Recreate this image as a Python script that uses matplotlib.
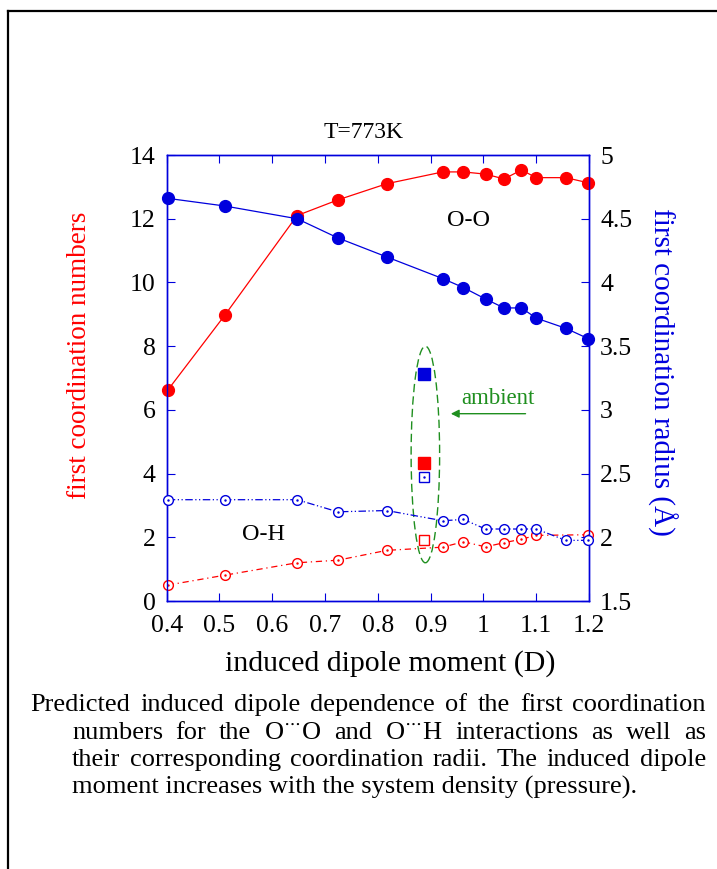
import matplotlib
matplotlib.use("Agg")
import matplotlib.pyplot as plt
from matplotlib.patches import Ellipse

plt.rcParams["font.family"] = ["Liberation Serif", "DejaVu Serif"]
plt.rcParams["mathtext.fontset"] = "stix"

# induced dipole moment (D)
dipole = [0.402, 0.51, 0.647, 0.724, 0.817, 0.923, 0.962, 1.004, 1.039, 1.072, 1.100, 1.156, 1.198]
# O-O coordination number / radius
n_oo = [6.62, 8.97, 12.10, 12.59, 13.10, 13.47, 13.47, 13.40, 13.25, 13.53, 13.29, 13.29, 13.13]
r_oo = [4.66, 4.60, 4.50, 4.35, 4.20, 4.03, 3.96, 3.87, 3.80, 3.80, 3.72, 3.64, 3.56]
# O-H coordination radius
r_oh = [2.295, 2.295, 2.295, 2.20, 2.21, 2.13, 2.14, 2.065, 2.065, 2.065, 2.065, 1.976, 1.976]
# O-H coordination number (no point at 1.156)
dipole_noh = [0.402, 0.51, 0.647, 0.724, 0.817, 0.923, 0.962, 1.004, 1.039, 1.072, 1.100, 1.198]
n_oh = [0.50, 0.81, 1.20, 1.28, 1.59, 1.69, 1.86, 1.70, 1.83, 1.94, 2.06, 2.08]

# ambient water
amb_dipole = 0.888
amb_n_oo, amb_r_oo = 4.32, 3.28
amb_n_oh, amb_r_oh = 1.905, 2.473

RED = "#ff0000"
BLUE = "#0000dd"
GREEN = "#1f8f1f"

fig = plt.figure(figsize=(7.17, 8.69), dpi=100)
ax = fig.add_axes([0.2325, 0.3084, 0.589, 0.5132])
ax2 = ax.twinx()

# left axis: coordination numbers
ax.plot(dipole, n_oo, "-", color=RED, lw=0.9, marker="o", ms=8.5, clip_on=False, zorder=3)
ax.plot(dipole_noh, n_oh, color=RED, lw=0.9, ls=(0, (5, 3, 1, 3)), marker="o", ms=7,
        mfc="white", mec=RED, mew=1.0, clip_on=False, zorder=3)
ax.plot(dipole_noh, n_oh, ".", color=RED, ms=1.5, clip_on=False, zorder=4)
ax.plot([amb_dipole], [amb_n_oo], "s", color=RED, ms=8, zorder=3)
ax.plot([amb_dipole], [amb_n_oh], "s", color=RED, ms=7.5, mfc="white", mec=RED, mew=1.0, zorder=3)

# right axis: coordination radii
ax2.plot(dipole, r_oo, "-", color=BLUE, lw=0.9, marker="o", ms=8.5, clip_on=False, zorder=3)
ax2.plot(dipole, r_oh, color=BLUE, lw=0.9, ls=(0, (6, 2, 1, 2, 1, 2)), marker="o", ms=7,
         mfc="white", mec=BLUE, mew=1.0, clip_on=False, zorder=3)
ax2.plot(dipole, r_oh, ".", color=BLUE, ms=1.5, clip_on=False, zorder=4)
ax2.plot([amb_dipole], [amb_r_oo], "s", color=BLUE, ms=8, zorder=3)
ax2.plot([amb_dipole], [amb_r_oh], "s", color=BLUE, ms=7.5, mfc="white", mec=BLUE, mew=1.0, zorder=3)
ax2.plot([amb_dipole], [amb_r_oh], ".", color=BLUE, ms=1.5, zorder=4)

# ambient marker: dashed ellipse + arrow
ax2.add_patch(Ellipse((0.890, 1.5 + (4.6 / 14) * 3.5), 0.054, 6.8 / 14 * 3.5, fill=False,
                      ec=GREEN, lw=1.0, ls=(0, (6, 3)), zorder=2))
ax.annotate("", xy=(0.933, 5.88), xytext=(1.085, 5.88),
            arrowprops=dict(arrowstyle="-|>", color=GREEN, lw=1.0, mutation_scale=12))
ax.text(1.027, 6.36, "ambient", color=GREEN, fontsize=16.5, ha="center", va="center")
ax.text(0.971, 11.96, "O-O", fontsize=17.5, ha="center", va="center")
ax.text(0.584, 2.09, "O-H", fontsize=17.5, ha="center", va="center")

ax.set_xlim(0.4, 1.2)
ax.set_ylim(0, 14)
ax2.set_ylim(1.5, 5)
ax.set_xticks([0.4, 0.5, 0.6, 0.7, 0.8, 0.9, 1.0, 1.1, 1.2])
ax.set_xticklabels(["0.4", "0.5", "0.6", "0.7", "0.8", "0.9", "1", "1.1", "1.2"])
ax.set_yticks(range(0, 15, 2))
ax2.set_yticks([1.5, 2, 2.5, 3, 3.5, 4, 4.5, 5])
ax2.set_yticklabels(["1.5", "2", "2.5", "3", "3.5", "4", "4.5", "5"])

for a in (ax, ax2):
    for sp in a.spines.values():
        sp.set_color(BLUE)
        sp.set_linewidth(1.0)
ax.tick_params(axis="x", direction="in", top=True, length=6, color=BLUE, labelsize=18.5, pad=10)
ax.tick_params(axis="y", direction="in", length=6, color=BLUE, labelsize=18.5, pad=8)
ax2.tick_params(axis="y", direction="in", length=6, color=BLUE, labelsize=18.5, pad=8)

fig.text(80 / 717, 1 - 355 / 869, "first coordination numbers", color=RED, fontsize=19.5,
         rotation=90, ha="center", va="center")
fig.text(662 / 717, 1 - 372 / 869, "first coordination radius (Å)", color=BLUE, fontsize=21,
         rotation=270, ha="center", va="center")
fig.text(390 / 717, 1 - 664 / 869, "induced dipole moment (D)", fontsize=21.5, ha="center", va="center")
fig.text(364 / 717, 1 - 132 / 869, "T=773K", fontsize=17, ha="center", va="center")

# frame lines at top and left
fig.add_artist(plt.Line2D([7.5 / 717, 7.5 / 717], [0, 1 - 11 / 869], transform=fig.transFigure,
                          color="black", lw=1.6))
fig.add_artist(plt.Line2D([7.5 / 717, 1], [1 - 11 / 869, 1 - 11 / 869], transform=fig.transFigure,
                          color="black", lw=1.6))

# caption: first three lines justified word by word, last line left-aligned
caption = [
    (30, 705, "Predicted induced dipole dependence of the first coordination"),
    (72, 733, "numbers for the O$^{\\cdots}$O and O$^{\\cdots}$H interactions as well as"),
    (72, 760, "their corresponding coordination radii.  The induced dipole"),
]
last_line = (72, 787, "moment increases with the system density (pressure).")
renderer = fig.canvas.get_renderer()
x_right = 706
for x0, y0, line in caption:
    words = line.split()
    texts = [fig.text(0, 1 - y0 / 869, w, fontsize=19, va="center") for w in words]
    widths = [t.get_window_extent(renderer).width for t in texts]
    gap = (x_right - x0 - sum(widths)) / (len(words) - 1)
    x = x0
    for t, w in zip(texts, widths):
        t.set_x(x / 717)
        x += w + gap
fig.text(last_line[0] / 717, 1 - last_line[1] / 869, last_line[2], fontsize=19, va="center")

fig.savefig("out.png", dpi=100)
